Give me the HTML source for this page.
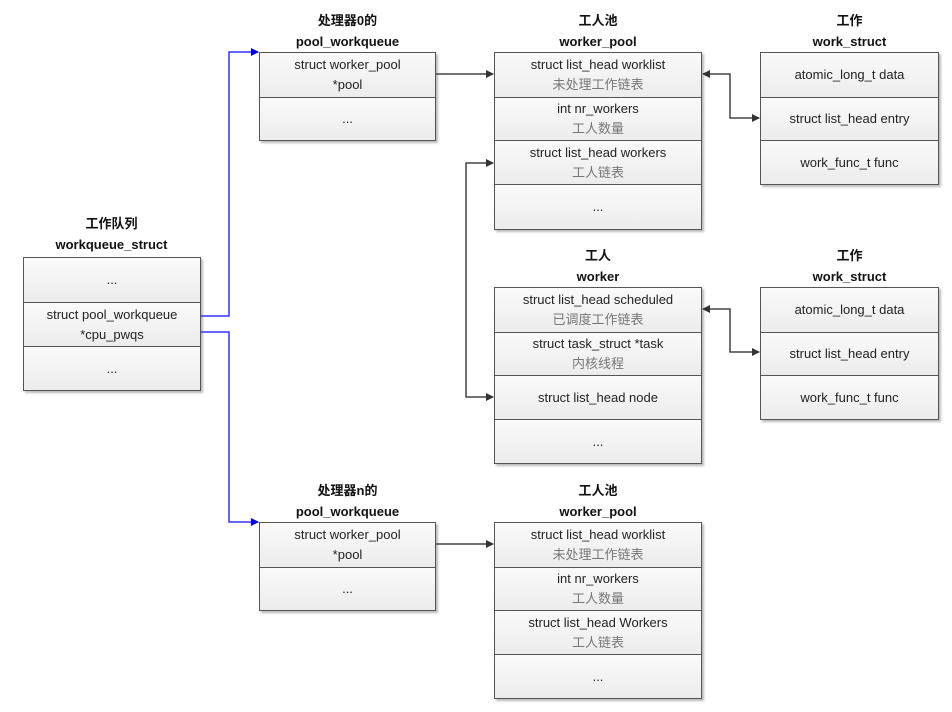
<!DOCTYPE html>
<html><head><meta charset="utf-8"><style>
body{margin:0;background:#fff;width:952px;height:712px;position:relative;overflow:hidden;font-family:"Liberation Sans","Noto Sans CJK SC",sans-serif;}
.box{position:absolute;border:1.5px solid #555;box-shadow:2px 2px 2px #bbb;background:#fff;box-sizing:border-box}
.r{box-sizing:border-box;border-bottom:1.5px solid #555;background:linear-gradient(#fafafa,#ececec);display:flex;flex-direction:column;justify-content:center;align-items:center;font-size:13px;color:#222;line-height:20px;text-align:center}
.r:last-child{border-bottom:none}
.cn{color:#777}
.t{position:absolute;text-align:center;font-weight:bold;font-size:13px;line-height:21px;color:#111}
svg{position:absolute;left:0;top:0}
</style></head><body>
<div class="t" style="left:23px;top:213px;width:177px">工作队列<br>workqueue_struct</div>
<div class="box" style="left:23px;top:257px;width:178px;height:134px">
<div class="r" style="height:45px">...</div><div class="r" style="height:44px">struct pool_workqueue<br>*cpu_pwqs</div><div class="r" style="height:43px">...</div></div>

<div class="t" style="left:259px;top:10px;width:177px">处理器0的<br>pool_workqueue</div>
<div class="box" style="left:259px;top:52px;width:177px;height:89px">
<div class="r" style="height:45px">struct worker_pool<br>*pool</div><div class="r" style="height:42px">...</div></div>

<div class="t" style="left:494px;top:10px;width:208px">工人池<br>worker_pool</div>
<div class="box" style="left:494px;top:52px;width:208px;height:178px">
<div class="r" style="height:45px">struct list_head worklist<span class="cn">未处理工作链表</span></div>
<div class="r" style="height:43px">int nr_workers<span class="cn">工人数量</span></div>
<div class="r" style="height:44px">struct list_head workers<span class="cn">工人链表</span></div>
<div class="r" style="height:44px">...</div></div>

<div class="t" style="left:760px;top:10px;width:179px">工作<br>work_struct</div>
<div class="box" style="left:760px;top:52px;width:179px;height:133px">
<div class="r" style="height:45px">atomic_long_t data</div><div class="r" style="height:43px">struct list_head entry</div><div class="r" style="height:43px">work_func_t func</div></div>

<div class="t" style="left:494px;top:245px;width:208px">工人<br>worker</div>
<div class="box" style="left:494px;top:287px;width:208px;height:177px">
<div class="r" style="height:45px">struct list_head scheduled<span class="cn">已调度工作链表</span></div>
<div class="r" style="height:43px">struct task_struct *task<span class="cn">内核线程</span></div>
<div class="r" style="height:44px">struct list_head node</div>
<div class="r" style="height:43px">...</div></div>

<div class="t" style="left:760px;top:245px;width:179px">工作<br>work_struct</div>
<div class="box" style="left:760px;top:287px;width:179px;height:133px">
<div class="r" style="height:45px">atomic_long_t data</div><div class="r" style="height:43px">struct list_head entry</div><div class="r" style="height:43px">work_func_t func</div></div>

<div class="t" style="left:259px;top:480px;width:177px">处理器n的<br>pool_workqueue</div>
<div class="box" style="left:259px;top:522px;width:177px;height:89px">
<div class="r" style="height:45px">struct worker_pool<br>*pool</div><div class="r" style="height:42px">...</div></div>

<div class="t" style="left:494px;top:480px;width:208px">工人池<br>worker_pool</div>
<div class="box" style="left:494px;top:522px;width:208px;height:177px">
<div class="r" style="height:45px">struct list_head worklist<span class="cn">未处理工作链表</span></div>
<div class="r" style="height:43px">int nr_workers<span class="cn">工人数量</span></div>
<div class="r" style="height:44px">struct list_head Workers<span class="cn">工人链表</span></div>
<div class="r" style="height:43px">...</div></div>

<svg width="952" height="712">
<defs>
<marker id="b" markerWidth="8" markerHeight="8" refX="7" refY="4" orient="auto" markerUnits="userSpaceOnUse"><path d="M0,0L8,4L0,8z" fill="#0000ee"/></marker>
<marker id="k" markerWidth="8" markerHeight="8" refX="7" refY="4" orient="auto" markerUnits="userSpaceOnUse"><path d="M0,0L8,4L0,8z" fill="#333"/></marker>
<marker id="ks" markerWidth="8" markerHeight="8" refX="1" refY="4" orient="auto" markerUnits="userSpaceOnUse"><path d="M8,0L0,4L8,8z" fill="#333"/></marker>
</defs>
<g fill="none" stroke-width="1.5">
<path d="M201,316H229V52H258" stroke="#3333ff" marker-end="url(#b)"/>
<path d="M201,332H229V522H258" stroke="#3333ff" marker-end="url(#b)"/>
<path d="M436,74H493" stroke="#444" marker-end="url(#k)"/>
<path d="M436,544H493" stroke="#444" marker-end="url(#k)"/>
<path d="M493,163H466V397H493" stroke="#444" marker-end="url(#k)" marker-start="url(#ks)"/>
<path d="M703,74H730V118H759" stroke="#444" marker-end="url(#k)" marker-start="url(#ks)"/>
<path d="M703,309H730V352H759" stroke="#444" marker-end="url(#k)" marker-start="url(#ks)"/>
</g></svg>
</body></html>
